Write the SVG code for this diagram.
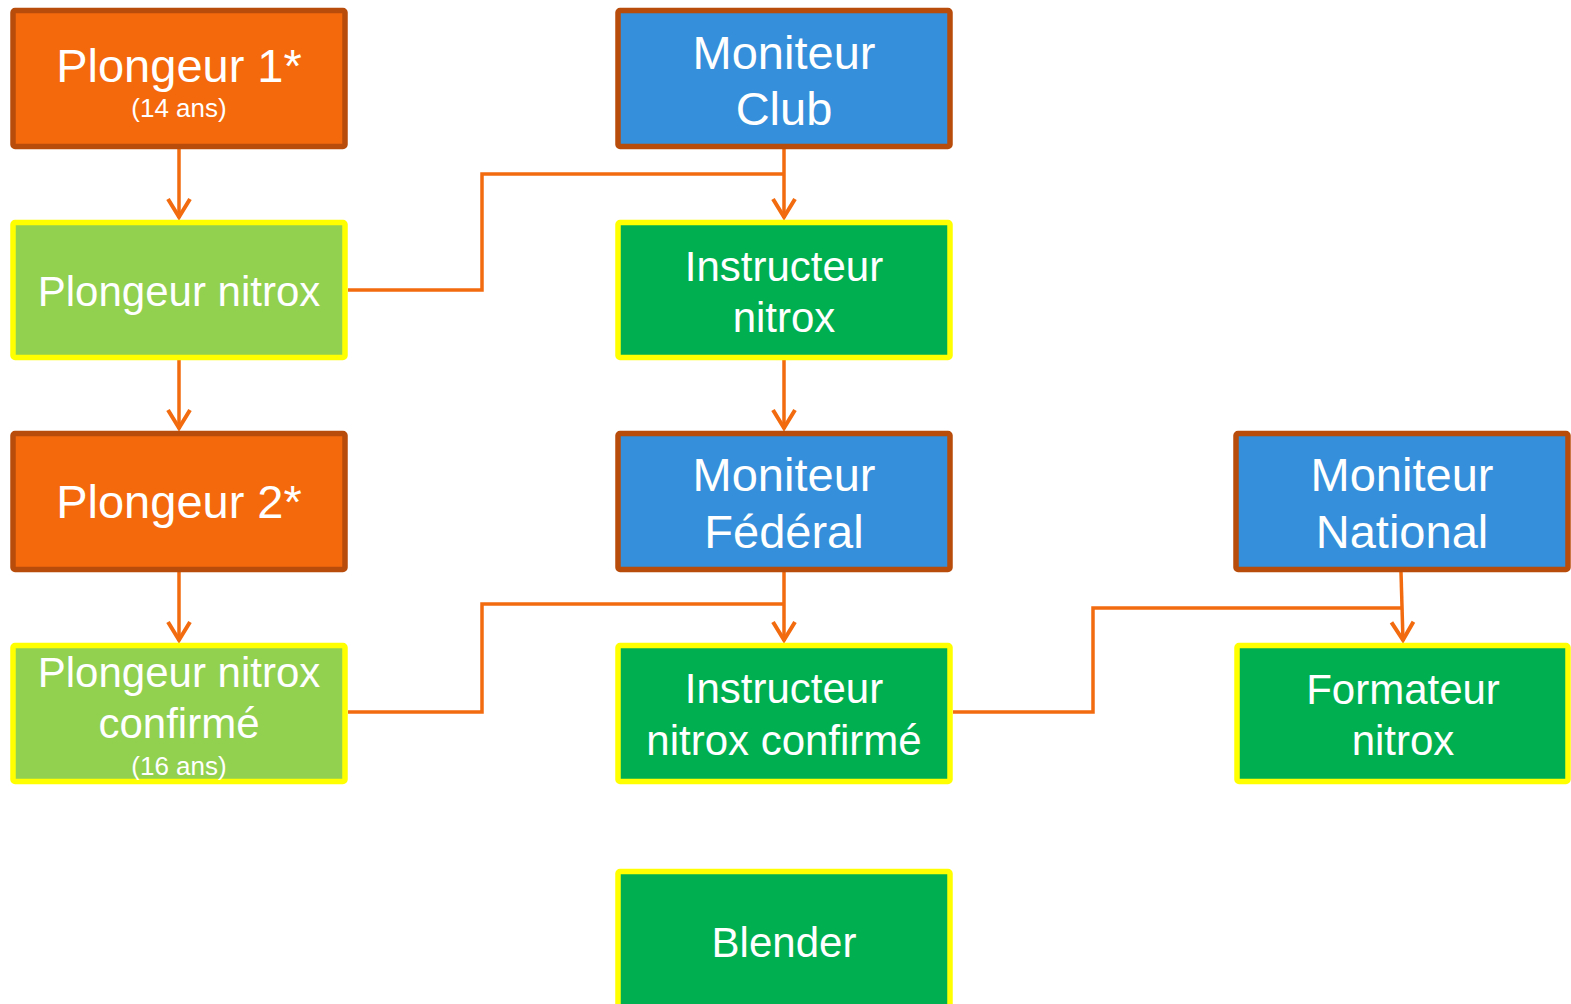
<svg xmlns="http://www.w3.org/2000/svg" width="1571" height="1004" viewBox="0 0 1571 1004">
<style>
.bx{stroke-width:5.5}
.or{fill:#F4690C;stroke:#B84C0A}
.bl{fill:#358FDA;stroke:#B84C0A}
.lg{fill:#92D050;stroke:#FFFF00}
.dg{fill:#00B050;stroke:#FFFF00}
text{font-family:"Liberation Sans",Arial,sans-serif;fill:#FFFFFF;text-anchor:middle}
.t47{font-size:47px}
.t42{font-size:42px}
.t26{font-size:26px}
.cn{fill:none;stroke:#F26B0F;stroke-width:3.5}
</style>
<defs>
<marker id="ah" markerUnits="userSpaceOnUse" markerWidth="40" markerHeight="40" viewBox="-20 -20 40 40" refX="0" refY="0" orient="auto" overflow="visible">
<path d="M-19,-11 L-1,0 L-19,11" fill="none" stroke="#F26B0F" stroke-width="4"/>
</marker>
</defs>
<rect width="1571" height="1004" fill="#FFFFFF"/>
<g id="connectors">
<path class="cn" d="M179,149 V218" marker-end="url(#ah)"/>
<path class="cn" d="M179,360 V429" marker-end="url(#ah)"/>
<path class="cn" d="M179,572 V641" marker-end="url(#ah)"/>
<path class="cn" d="M784,149 V218" marker-end="url(#ah)"/>
<path class="cn" d="M348,290 H482 V174 H784"/>
<path class="cn" d="M784,360 V429" marker-end="url(#ah)"/>
<path class="cn" d="M784,572 V641" marker-end="url(#ah)"/>
<path class="cn" d="M348,712 H482 V604 H784"/>
<path class="cn" d="M1401,572 L1403,641" marker-end="url(#ah)"/>
<path class="cn" d="M953,712 H1093 V608 H1402"/>
</g>
<g id="plongeur1">
<rect class="bx or" x="13" y="10.5" width="332" height="136" rx="2"/>
<text class="t47" x="179" y="82">Plongeur 1*</text>
<text class="t26" x="179" y="117">(14 ans)</text>
</g>
<g id="plongeurNitrox">
<rect class="bx lg" x="13" y="222.5" width="332" height="135" rx="2"/>
<text class="t42" x="179" y="306">Plongeur nitrox</text>
</g>
<g id="plongeur2">
<rect class="bx or" x="13" y="433.5" width="332" height="136" rx="2"/>
<text class="t47" x="179" y="518">Plongeur 2*</text>
</g>
<g id="plongeurNitroxConfirme">
<rect class="bx lg" x="13" y="645.5" width="332" height="136" rx="2"/>
<text class="t42" x="179" y="687">Plongeur nitrox</text>
<text class="t42" x="179" y="738">confirmé</text>
<text class="t26" x="179" y="775">(16 ans)</text>
</g>
<g id="moniteurClub">
<rect class="bx bl" x="618" y="10.5" width="332" height="136" rx="2"/>
<text class="t47" x="784" y="69">Moniteur</text>
<text class="t47" x="784" y="125">Club</text>
</g>
<g id="instructeurNitrox">
<rect class="bx dg" x="618" y="222.5" width="332" height="135" rx="2"/>
<text class="t42" x="784" y="281">Instructeur</text>
<text class="t42" x="784" y="332">nitrox</text>
</g>
<g id="moniteurFederal">
<rect class="bx bl" x="618" y="433.5" width="332" height="136" rx="2"/>
<text class="t47" x="784" y="491">Moniteur</text>
<text class="t47" x="784" y="548">Fédéral</text>
</g>
<g id="instructeurNitroxConfirme">
<rect class="bx dg" x="618" y="645.5" width="332" height="136" rx="2"/>
<text class="t42" x="784" y="703">Instructeur</text>
<text class="t42" x="784" y="755">nitrox confirmé</text>
</g>
<g id="moniteurNational">
<rect class="bx bl" x="1236" y="433.5" width="332" height="136" rx="2"/>
<text class="t47" x="1402" y="491">Moniteur</text>
<text class="t47" x="1402" y="548">National</text>
</g>
<g id="formateurNitrox">
<rect class="bx dg" x="1237" y="645.5" width="331" height="136" rx="2"/>
<text class="t42" x="1403" y="704">Formateur</text>
<text class="t42" x="1403" y="755">nitrox</text>
</g>
<g id="blender">
<rect class="bx dg" x="618" y="871.5" width="332" height="140" rx="2"/>
<text class="t42" x="784" y="957">Blender</text>
</g>
</svg>
